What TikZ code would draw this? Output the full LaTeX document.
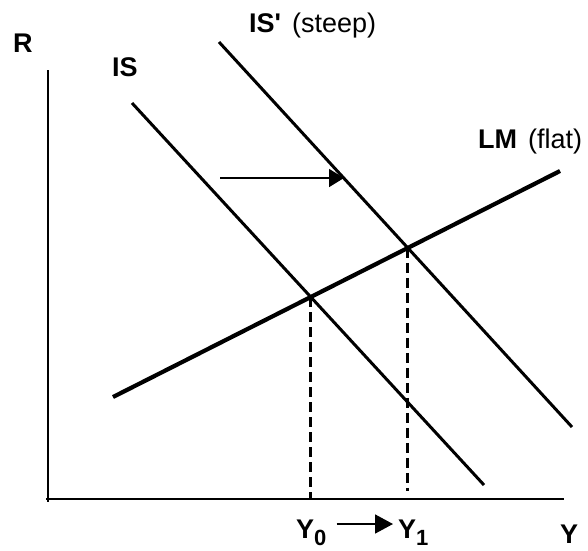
\documentclass[tikz,border=0pt]{standalone}
\usepackage{fontspec}
\setmainfont{Liberation Sans}
\usetikzlibrary{arrows.meta,intersections}
\begin{document}
\begin{tikzpicture}[x=1pt,y=-1pt,
  lbl/.style={font=\fontsize{27}{31}\selectfont\bfseries, inner sep=0pt, anchor=base west},
  axisline/.style={line width=2pt},
  curve/.style={line width=3pt},
  lmcurve/.style={line width=4.2pt},
  guide/.style={line width=3pt, dash pattern=on 10pt off 5pt},
  shiftarrow/.style={line width=1.7pt, -{Triangle[length=15pt,width=18pt]}},
  yarrow/.style={line width=1.7pt, -{Triangle[length=18pt,width=19pt]}}]
\useasboundingbox (0,0) rectangle (588,550);
% axes
\coordinate (ytop) at (48,70);
\coordinate (origin) at (48,499);
\coordinate (xend) at (564,499);
\draw[axisline] (ytop) -- (48,502);
\draw[axisline] (46,499) -- (xend);
% curves
\coordinate (is1) at (132,103);
\coordinate (is2) at (484,485);
\coordinate (isp1) at (219,42);
\coordinate (isp2) at (572,427);
\coordinate (lm1) at (113,397);
\coordinate (lm2) at (560,171);
\draw[curve, name path=is] (is1) -- (is2);
\draw[curve, name path=isp] (isp1) -- (isp2);
\draw[lmcurve, name path=lm] (lm1) -- (lm2);
\path[name intersections={of=is and lm, by=E0}];
\path[name intersections={of=isp and lm, by=E1}];
\coordinate (y1foot) at (409,491);
\draw[guide] (E0) -- (E0 |- origin);
\draw[guide] (E1) -- (E1 |- y1foot);
% shift arrow
\coordinate (shiftstart) at (220,178);
\coordinate (shiftend) at (344,178);
\draw[shiftarrow] (shiftstart) -- (shiftend);
% labels
\node[lbl] (R) at (13,52) {R};
\node[lbl] (ISlbl) at (112,76) {IS};
\node[lbl] (ISplbl) at (249,32) {IS\textquotesingle\hspace{11pt}\mdseries(steep)};
\node[lbl] (LMlbl) at (478,148) {LM\hspace{11pt}\mdseries(flat)};
\node[lbl] (Y0) at (296,538) {Y\raisebox{-7pt}{\fontsize{22}{22}\selectfont 0}};
\node[lbl] (Y1) at (398,538) {Y\raisebox{-7pt}{\fontsize{22}{22}\selectfont 1}};
\node[lbl] (Ylbl) at (560,543) {Y};
\draw[yarrow] ([xshift=10pt,yshift=14pt]Y0.base east) -- ([xshift=-5pt,yshift=14pt]Y1.base west);
\end{tikzpicture}
\end{document}
